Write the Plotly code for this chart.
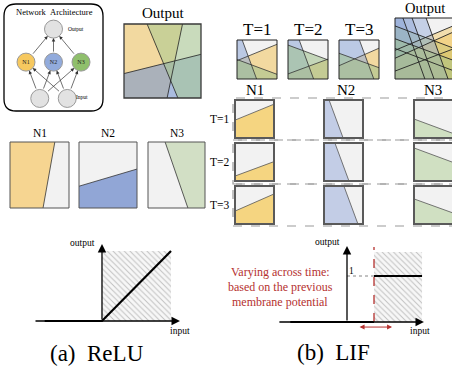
import plotly.graph_objects as go

W, H = 452, 371
SERIF = "Liberation Serif"
NBSP = "\u00a0"

# ---------------- data ----------------
hidden_names = ["N1", "N2", "N3"]
input_names = ["", ""]
output_names = [""]

# ReLU network: decision boundary of each hidden neuron inside a unit input square
relu_n1_top_bottom = [0.76, 0.56]   # x where the boundary meets top / bottom edge (active on the left)
relu_n2_left_right = [0.33, 0.59]   # y where the boundary meets left / right edge (active below)
relu_n3_top_bottom = [0.30, 0.70]   # x at top / bottom edge (active on the right)

# LIF network: the boundaries move from one time step to the next
time_steps = [1, 2, 3]
lif_n1_left_right = [[0.47, 0.89], [0.13, 0.51], [0.34, 0.79]]   # active below
lif_n2_top_bottom = [[0.13, 0.49], [0.28, 0.64], [0.51, 0.87]]   # active on the left
lif_n3_left_right = [[0.50, 0.12], [0.87, 0.49], [0.66, 0.29]]   # active below

# activation functions
relu_input = [-0.83, 0.0, 1.0]
relu_output = [0.0, 0.0, 1.0]
lif_threshold = 1.0
lif_spike = 1.0
lif_input_span = [-2.1, 2.78]
lif_threshold_shift = [0.41, 1.67]

# ---------------- helpers ----------------
fig = go.Figure()
shapes = []
annotations = []
n_axes = [0]


def add_axes(box, xr=(0, 1), yr=(0, 1)):
    x0, y0, x1, y1 = box
    n_axes[0] += 1
    s = "" if n_axes[0] == 1 else str(n_axes[0])
    fig.layout["xaxis" + s] = dict(domain=[max(0, x0 / W), min(1, x1 / W)], range=list(xr),
                                   visible=False, fixedrange=True, anchor="y" + s)
    fig.layout["yaxis" + s] = dict(domain=[max(0, 1 - y1 / H), min(1, 1 - y0 / H)], range=list(yr),
                                   visible=False, fixedrange=True, anchor="x" + s)
    fig.add_trace(go.Scatter(x=[], y=[], xaxis="x" + s, yaxis="y" + s, hoverinfo="skip"))
    return "x" + s, "y" + s


def unit_axes(box):
    x0, y0, x1, y1 = box
    xr = (0, 1)
    if x1 > W:
        xr = (0, (W - x0) / (x1 - x0))
        box = (x0, y0, W, y1)
    return add_axes(box, xr, (0, 1))


def below(a, b):
    return [(0, 0), (1, 0), (1, b), (0, a)], ((0, a), (1, b))


def left_of(a, b):
    return [(0, 0), (b, 0), (a, 1), (0, 1)], ((a, 1), (b, 0))


def right_of(a, b):
    return [(b, 0), (1, 0), (1, 1), (a, 1)], ((a, 1), (b, 0))


def path_of(pts):
    return "M " + " L ".join(f"{x},{y}" for x, y in pts) + " Z"


def px_rect(box, **kw):
    x0, y0, x1, y1 = box
    shapes.append(dict(type="rect", xref="paper", yref="paper",
                       x0=x0 / W, x1=x1 / W, y0=1 - y1 / H, y1=1 - y0 / H, **kw))


def text(t, x, y, size, color="black", xanchor="center", family=SERIF):
    annotations.append(dict(text=t, x=x / W, y=1 - y / H, xref="paper", yref="paper",
                            showarrow=False, xanchor=xanchor, yanchor="middle",
                            font=dict(family=family, size=size, color=color)))


def panel(box, regions, colors, opacity, border_color, border_width,
          line_color="#4a4a4a", line_width=0.8, bg="#f2f2f2"):
    xa, ya = unit_axes(box)
    shapes.append(dict(type="rect", xref=xa, yref=ya, x0=0, x1=1, y0=0, y1=1,
                       fillcolor=bg, line_width=0))
    for (poly, _), c in zip(regions, colors):
        shapes.append(dict(type="path", xref=xa, yref=ya, path=path_of(poly),
                           fillcolor=c, opacity=opacity, line_width=0))
    for (_, seg) in regions:
        (sx0, sy0), (sx1, sy1) = seg
        shapes.append(dict(type="line", xref=xa, yref=ya, x0=sx0, y0=sy0, x1=sx1, y1=sy1,
                           line=dict(color=line_color, width=line_width)))
    px_rect(box, line=dict(color=border_color, width=border_width), fillcolor="rgba(0,0,0,0)")


# ---------------- (a) ReLU ----------------
# network architecture sketch
bx0, by0, bx1, by1, r = 4, 4, 103, 111, 12
P = lambda x, y: f"{x / W},{1 - y / H}"
shapes.append(dict(type="path", xref="paper", yref="paper", layer="below",
                   path=(f"M {P(bx0 + r, by0)} L {P(bx1 - r, by0)} Q {P(bx1, by0)} {P(bx1, by0 + r)} "
                         f"L {P(bx1, by1 - r)} Q {P(bx1, by1)} {P(bx1 - r, by1)} "
                         f"L {P(bx0 + r, by1)} Q {P(bx0, by1)} {P(bx0, by1 - r)} "
                         f"L {P(bx0, by0 + r)} Q {P(bx0, by0)} {P(bx0 + r, by0)} Z"),
                   line=dict(color="black", width=1.3), fillcolor="white"))
text("Network" + NBSP * 2 + "Architecture", 54, 12, 8.5)

nx, ny = add_axes((bx0, by0, bx1, by1), xr=(-1.8, 1.8), yr=(2.48, -0.76))
layer_y = {"out": 0.0, "hid": 1.0, "in": 2.1}
out_pos = [(0.0, layer_y["out"])]
hid_pos = [(i - 1.0, layer_y["hid"]) for i in range(len(hidden_names))]
in_pos = [(i - 0.5, layer_y["in"]) for i in range(len(input_names))]

for (sx, sy) in in_pos:
    for (tx, ty) in hid_pos:
        annotations.append(dict(x=tx, y=ty, ax=sx, ay=sy, xref=nx, yref=ny, axref=nx, ayref=ny,
                                text="", showarrow=True, arrowhead=2, arrowsize=1, arrowwidth=0.7,
                                arrowcolor="#333", standoff=9, startstandoff=9))
for (sx, sy) in hid_pos:
    for (tx, ty) in out_pos:
        annotations.append(dict(x=tx, y=ty, ax=sx, ay=sy, xref=nx, yref=ny, axref=nx, ayref=ny,
                                text="", showarrow=True, arrowhead=2, arrowsize=1, arrowwidth=0.7,
                                arrowcolor="#333", standoff=9, startstandoff=9))

node_fill = ["#f6c85f", "#92abdc", "#8fbf6c"]
fig.add_trace(go.Scatter(x=[p[0] for p in out_pos + in_pos], y=[p[1] for p in out_pos + in_pos],
                         xaxis=nx, yaxis=ny, mode="markers", hoverinfo="skip",
                         marker=dict(size=18, color="#e2e2e2", line=dict(color="#999", width=1))))
fig.add_trace(go.Scatter(x=[p[0] for p in hid_pos], y=[p[1] for p in hid_pos],
                         xaxis=nx, yaxis=ny, mode="markers+text", text=hidden_names,
                         textposition="middle center", hoverinfo="skip",
                         textfont=dict(family=SERIF, size=6, color="#222"),
                         marker=dict(size=18, color=node_fill, line=dict(color="#999", width=1))))
text("Output", 76, 29, 5.5)
text("Input", 82, 97, 5.5)

# ReLU hidden neurons and their combined output
relu_regions = [left_of(*relu_n1_top_bottom), below(*relu_n2_left_right), right_of(*relu_n3_top_bottom)]
solid_left = ["#f6d591", "#91a6d6", "#d2dfc5"]
overlay = ["#f2c55c", "#6f8fcf", "#a8c890"]

text("Output", 163, 13, 15)
panel((124, 24, 201, 98), relu_regions, overlay, 0.55, "#3a3a3a", 1.3, line_color="#222")

for name, region, col, (x0, x1) in zip(hidden_names, relu_regions, solid_left,
                                       [(10, 69), (79, 137), (148, 205)]):
    text(name, (x0 + x1) / 2, 133, 11.5)
    panel((x0, 142, x1, 208), [region], [col], 1.0, "#555", 1.0, line_color="#333")

# ReLU curve
gx, gy = add_axes((30, 236, 200, 335), xr=(-1.043, 1.420), yr=(-0.2, 1.214))
fig.add_trace(go.Scatter(x=[0, 1, 1, 0, 0], y=[0, 0, 1, 1, 0], xaxis=gx, yaxis=gy, mode="lines",
                         line=dict(width=0), fill="toself", hoverinfo="skip",
                         fillpattern=dict(shape="\\", fgcolor="#8a8a8a", bgcolor="#f7f7f7",
                                          size=4, solidity=0.25)))
annotations.append(dict(x=1.13, y=0, ax=-0.985, ay=0, xref=gx, yref=gy, axref=gx, ayref=gy, text="",
                        showarrow=True, arrowhead=2, arrowsize=1.3, arrowwidth=1.3, arrowcolor="black"))
annotations.append(dict(x=0, y=1.1, ax=0, ay=0, xref=gx, yref=gy, axref=gx, ayref=gy, text="",
                        showarrow=True, arrowhead=2, arrowsize=1.3, arrowwidth=1.3, arrowcolor="black"))
fig.add_trace(go.Scatter(x=relu_input, y=relu_output, xaxis=gx, yaxis=gy, mode="lines",
                         hoverinfo="skip", line=dict(color="black", width=2.2)))
text("output", 82, 243, 9.5)
text("input", 180, 331, 9.5)
text("(a)" + NBSP * 2 + "ReLU", 97, 353, 23)

# ---------------- (b) LIF ----------------
lif_regions = [[below(*lif_n1_left_right[t]), left_of(*lif_n2_top_bottom[t]), below(*lif_n3_left_right[t])]
               for t in range(len(time_steps))]
solid_right = ["#f5d581", "#c3cde6", "#d0e0c2"]
overlay_t = ["#f2c55c", "#8ea7d8", "#9fc08a"]

for t, x0 in zip(time_steps, [237, 288, 339]):
    text(f"T={t}", x0 + 20, 29, 17)
    panel((x0, 40, x0 + 40, 79), lif_regions[t - 1], overlay_t, 0.55, "#222", 1.0, line_color="#333")

text("Output", 425, 8, 14.5)
all_regions = [reg for step in lif_regions for reg in step]
panel((395, 18, 456, 79), all_regions, overlay_t * len(time_steps), 0.45, "#222", 1.0,
      line_color="#222", line_width=0.9)

# row-by-row neurons
row_tops = [100, 143, 186]
row_boxes = [(98, 140), (140, 184), (184, 226)]
for (ry0, ry1) in row_boxes:
    px_rect((233, ry0, 470, ry1), line=dict(color="#9a9a9a", width=1.2, dash="dash"),
            fillcolor="rgba(0,0,0,0)")
for name, cx in zip(hidden_names, [255, 346, 433]):
    text(name, cx, 90, 15)
for ti, t in enumerate(time_steps):
    y0 = row_tops[ti]
    text(f"T={t}", 232, y0 + 19, 11.5, xanchor="right")
    for ni, x0 in enumerate([235, 324, 414]):
        panel((x0, y0, x0 + 39, y0 + 38), [lif_regions[ti][ni]], [solid_right[ni]], 1.0,
              "#5a5a5a", 2.0, line_color="#555")

# LIF activation
lx, ly = add_axes((270, 236, 445, 335), xr=(-2.852, 3.630), yr=(-0.283, 1.870))
hatch_top = 1.52
fig.add_trace(go.Scatter(x=[lif_threshold, lif_input_span[1], lif_input_span[1], lif_threshold, lif_threshold],
                         y=[0, 0, hatch_top, hatch_top, 0], xaxis=lx, yaxis=ly, mode="lines",
                         line=dict(width=0), fill="toself", hoverinfo="skip",
                         fillpattern=dict(shape="\\", fgcolor="#8a8a8a", bgcolor="#f7f7f7",
                                          size=4, solidity=0.25)))
annotations.append(dict(x=2.85, y=0, ax=-2.56, ay=0, xref=lx, yref=ly, axref=lx, ayref=ly, text="",
                        showarrow=True, arrowhead=2, arrowsize=1.3, arrowwidth=1.3, arrowcolor="black"))
annotations.append(dict(x=0, y=1.65, ax=0, ay=0, xref=lx, yref=ly, axref=lx, ayref=ly, text="",
                        showarrow=True, arrowhead=2, arrowsize=1.3, arrowwidth=1.3, arrowcolor="black"))
shapes.append(dict(type="line", xref=lx, yref=ly, x0=0, x1=lif_threshold, y0=lif_spike, y1=lif_spike,
                   line=dict(color="#666", width=0.8, dash="dot")))
shapes.append(dict(type="line", xref=lx, yref=ly, x0=lif_threshold, x1=lif_threshold, y0=0, y1=1.63,
                   line=dict(color="#b5312f", width=1.3, dash="dash")))
fig.add_trace(go.Scatter(x=[lif_input_span[0], lif_threshold, None, lif_threshold, lif_input_span[1]],
                         y=[0, 0, None, lif_spike, lif_spike], xaxis=lx, yaxis=ly, mode="lines",
                         hoverinfo="skip", line=dict(color="black", width=2.2)))
annotations.append(dict(x=lif_threshold_shift[1], y=-0.11, ax=lif_threshold_shift[0], ay=-0.11,
                        xref=lx, yref=ly, axref=lx, ayref=ly, text="", showarrow=True,
                        arrowhead=2, arrowside="end+start", arrowsize=1, arrowwidth=1,
                        arrowcolor="#b5312f"))
text("1", 351, 271, 9.5)
text("output", 327, 242, 9.5)
text("input", 420, 331, 9.5)
for line_txt, yy in zip(["Varying across time:", "based on the previous", "membrane potential"],
                        [272, 287, 302]):
    text(line_txt, 280, yy, 12, color="#b5312f")
text("(b)" + NBSP * 2 + "LIF", 333, 352, 23)

fig.update_layout(width=W, height=H, margin=dict(l=0, r=0, t=0, b=0),
                  paper_bgcolor="white", plot_bgcolor="rgba(0,0,0,0)", showlegend=False,
                  shapes=shapes, annotations=annotations)
fig.write_html("out.html")
